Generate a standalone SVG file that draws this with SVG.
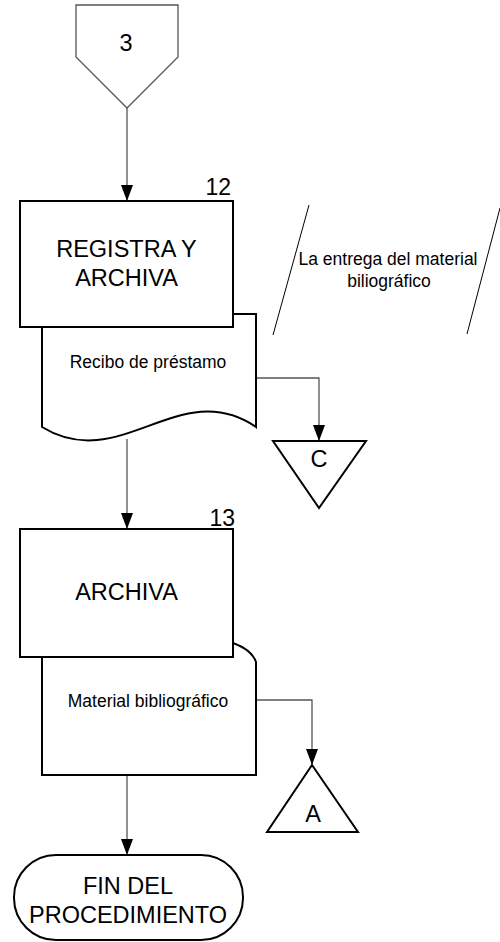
<svg xmlns="http://www.w3.org/2000/svg" width="500" height="942" viewBox="0 0 500 942">
<style>
.node{fill:#fff;stroke:#000;stroke-width:2}
.thin{fill:#fff;stroke:#555;stroke-width:1.3}
.conn{fill:none;stroke:#555;stroke-width:1.3}
.big{font-family:"Liberation Sans",Arial,sans-serif;font-size:23.5px;fill:#000;text-anchor:middle}
.num{font-family:"Liberation Sans",Arial,sans-serif;font-size:23px;fill:#000;text-anchor:end}
.small{font-family:"Liberation Sans",Arial,sans-serif;font-size:17.5px;fill:#000;text-anchor:middle}
.note{fill:none;stroke:#000;stroke-width:1}
</style>
<defs>
<marker id="arr" markerUnits="userSpaceOnUse" markerWidth="16" markerHeight="12" refX="16" refY="6" orient="auto">
<path d="M0,0 L16,6 L0,12 Z" fill="#000"/>
</marker>
</defs>
<rect width="500" height="942" fill="#fff"/>
<g id="connectors">
<line class="conn" x1="127" y1="108" x2="127" y2="201" marker-end="url(#arr)"/>
<line class="conn" x1="127" y1="439" x2="127" y2="529" marker-end="url(#arr)"/>
<polyline class="conn" points="256,378 319,378 319,441" marker-end="url(#arr)"/>
<polyline class="conn" points="256,700 312,700 312,765" marker-end="url(#arr)"/>
<line class="conn" x1="127" y1="775" x2="127" y2="855" marker-end="url(#arr)"/>
</g>
<g id="offpage3">
<path class="thin" d="M76,5 L178,5 L178,57 L127,108 L76,57 Z"/>
<text class="big" x="126" y="51">3</text>
</g>
<g id="doc1">
<path class="node" d="M42,314 L256,314 L256,427 C180,375 120,475 42,427 Z"/>
<text class="small" x="148" y="368">Recibo de préstamo</text>
</g>
<g id="box12">
<rect class="node" x="20" y="201" width="213" height="126"/>
<text class="big" x="126.5" y="257">REGISTRA Y</text>
<text class="big" x="126.5" y="286">ARCHIVA</text>
<text class="num" x="231" y="195">12</text>
</g>
<g id="note">
<line class="note" x1="309" y1="205" x2="273" y2="335"/>
<line class="note" x1="500" y1="208" x2="467" y2="334"/>
<text class="small" x="388" y="265">La entrega del material</text>
<text class="small" x="389" y="287">biliográfico</text>
</g>
<g id="connC">
<path class="node" d="M273,441 L366,441 L319,508 Z"/>
<text class="big" x="319" y="467">C</text>
</g>
<g id="doc2">
<path class="node" d="M42,643 L233,643 Q252,650 256,662 L256,775 L42,775 Z"/>
<text class="small" x="148" y="707">Material bibliográfico</text>
</g>
<g id="box13">
<rect class="node" x="20" y="529" width="213" height="128"/>
<text class="big" x="126.5" y="600">ARCHIVA</text>
<text class="num" x="235" y="526">13</text>
</g>
<g id="connA">
<path class="node" d="M312,765 L358,832 L267,832 Z"/>
<text class="big" x="313" y="822">A</text>
</g>
<g id="fin">
<rect class="node" x="14" y="855" width="229" height="85" rx="42" ry="42"/>
<text class="big" x="128" y="894">FIN DEL</text>
<text class="big" x="128" y="923">PROCEDIMIENTO</text>
</g>
</svg>
